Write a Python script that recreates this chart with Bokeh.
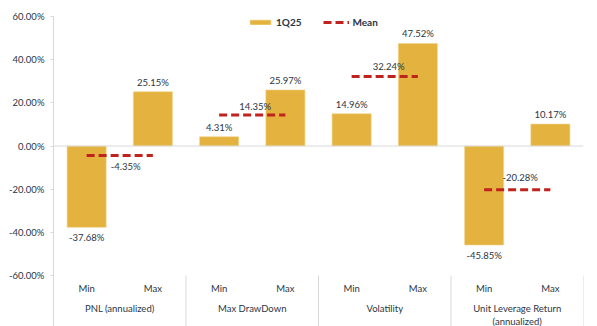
from bokeh.plotting import figure
from bokeh.models import (FactorRange, Range1d, ColumnDataSource, Span, Legend, LegendItem,
                          FixedTicker, PrintfTickFormatter)
from bokeh.core.properties import value
from bokeh.embed import file_html
from bokeh.resources import INLINE

# ---- data ----
groups = ["PNL (annualized)", "Max DrawDown", "Volatility", "Unit Leverage Return\n(annualized)"]
stats = ["Min", "Max"]
min_vals = [-37.68, 4.31, 14.96, -45.85]
max_vals = [25.15, 25.97, 47.52, 10.17]
mean_vals = [-4.35, 14.35, 32.24, -20.28]
y_ticks = [-60, -40, -20, 0, 20, 40, 60]

# ---- styles ----
BAR = "#E4B33F"
MEAN = "#C0231E"
TXT = "#2B3544"
GREY = "#D9D9D9"
FONT = "Lato"

factors = [(g, s) for g in groups for s in stats]
bar_vals = [v for pair in zip(min_vals, max_vals) for v in pair]

px_per_unit = 259.3 / 120.0
y_bottom = -60 - 51 / px_per_unit

p = figure(width=597, height=326, output_backend="svg", toolbar_location=None,
           x_range=FactorRange(*factors, factor_padding=0, group_padding=0, range_padding=0),
           y_range=Range1d(y_bottom, 60),
           min_border_left=53, min_border_right=14, min_border_top=16, min_border_bottom=0)
p.outline_line_color = None
p.xgrid.visible = False
p.ygrid.visible = False
p.xaxis.visible = False
p.background_fill_color = "white"
p.border_fill_color = "white"

yax = p.yaxis[0]
yax.ticker = FixedTicker(ticks=y_ticks)
yax.formatter = PrintfTickFormatter(format="%.2f%%")
yax.axis_line_color = GREY
yax.major_tick_line_color = GREY
yax.major_tick_out = 3
yax.major_tick_in = 0
yax.minor_tick_line_color = None
yax.major_label_standoff = 6
yax.major_label_text_font = FONT
yax.major_label_text_font_size = "9.5px"
yax.major_label_text_color = TXT

# zero line
p.add_layout(Span(location=0, dimension="width", line_color=GREY, line_width=1))

# bars
src = ColumnDataSource(dict(x=factors, top=bar_vals,
                            lbl=[f"{v:.2f}%" for v in bar_vals],
                            off=[-4 if v >= 0 else 5 for v in bar_vals],
                            base=["bottom" if v >= 0 else "top" for v in bar_vals]))
bars = p.vbar(x="x", top="top", bottom=0, width=0.59, source=src,
              fill_color=BAR, line_color="#F2D58A", line_width=0.6)
p.text(x="x", y="top", text="lbl", source=src, y_offset="off", text_baseline="base",
       text_align="center", text_font=value(FONT), text_font_size="9.5px", text_color=TXT)

# mean segments
msrc = ColumnDataSource(dict(x0=[(g, "Min") for g in groups], x1=[(g, "Max") for g in groups],
                             xm=[(g, "Max", -0.5) for g in groups],
                             y=mean_vals, lbl=[f"{v:.2f}%" for v in mean_vals]))
means = p.segment(x0="x0", y0="y", x1="x1", y1="y", source=msrc,
                  line_color=MEAN, line_width=3, line_dash="8 4")
msrc.data["yo"] = [11, -9, -10, -12]
msrc.data["xo"] = [6, 3, 4, 3]
p.text(x="xm", y="y", text="lbl", source=msrc, x_offset="xo", y_offset="yo",
       text_align="center", text_baseline="middle",
       text_font=value(FONT), text_font_size="9.5px", text_color=TXT)

# category labels
p.text(x=factors, y=[-60] * len(factors), text=[s for g, s in factors], y_offset=13,
       text_align="center", text_baseline="middle",
       text_font=value(FONT), text_font_size="9.5px", text_color=TXT)
p.text(x=groups, y=[-60] * len(groups), text=groups, y_offset=27,
       text_align="center", text_baseline="top", text_line_height=1.25,
       text_font=value(FONT), text_font_size="9.5px", text_color=TXT)

# group separators
sep_x = [(g, "Min", -0.5) for g in groups[1:]] + [(groups[-1], "Max", 0.5)]
p.segment(x0=sep_x, x1=sep_x, y0=[-60] * len(sep_x), y1=[y_bottom] * len(sep_x),
          line_color=GREY, line_width=1)

legend = Legend(items=[LegendItem(label="1Q25", renderers=[bars]),
                       LegendItem(label="Mean", renderers=[means])],
                orientation="horizontal", location=(194, 298),
                glyph_width=26, glyph_height=6, label_height=12, label_standoff=3,
                spacing=22, padding=0, margin=0,
                label_text_font=FONT, label_text_font_size="10px",
                label_text_font_style="bold", label_text_color=TXT,
                background_fill_alpha=0, border_line_color=None)
p.add_layout(legend)

open("out.html", "w").write(file_html(p, INLINE))
